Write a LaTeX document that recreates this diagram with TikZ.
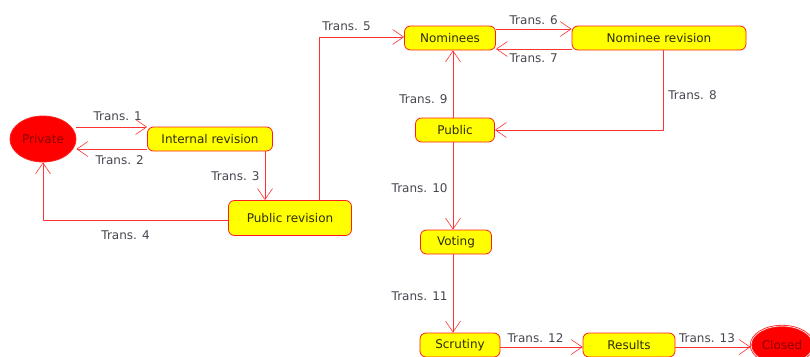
\documentclass[tikz,border=0pt]{standalone}
\usepackage{fontspec}
\setmainfont{DejaVu Sans}
\usetikzlibrary{arrows.meta,shapes.geometric}
\begin{document}
\begin{tikzpicture}[x=1pt,y=-1pt,line join=round]
			\definecolor{statered}{RGB}{255,30,30}
			\definecolor{linered}{RGB}{255,50,50}
			\definecolor{stateyellow}{RGB}{255,255,0}
			\definecolor{labelgray}{RGB}{70,70,80}
			\definecolor{statetext}{RGB}{45,45,10}
			\definecolor{darkred}{RGB}{140,0,0}
			%\draw[help lines] (0,0) grid[step=50] (810,356);
			
			\useasboundingbox (0,0) rectangle (810,356);
			
			\tikzset{
				state/.style={draw=statered, fill=stateyellow, rounded corners=6pt,
					text=statetext, font=\fontsize{12}{14}\selectfont,
					minimum height=24pt, inner sep=2pt, line width=.8pt},
				endstate/.style={ellipse, draw=statered, fill=red, text=darkred,
					font=\fontsize{12}{14}\selectfont, inner sep=0pt, line width=.8pt},
				trans/.style={draw=linered, line width=.8pt,
					-{Straight Barb[length=11pt,width=15pt,line width=.6pt]}},
				lbl/.style={text=labelgray, font=\fontsize{12}{14}\selectfont, inner sep=1pt}
			}
			
			% states
			\node[endstate, minimum width=66pt, minimum height=46pt] (private) at (43,139) {Private};
			\node[state, minimum width=125pt] (intrev) at (210,139) {Internal revision};
			\node[state, minimum width=123pt, minimum height=35pt] (pubrev) at (290,218) {Public revision};
			\node[state, minimum width=91pt] (nominees) at (450,38) {Nominees};
			\node[state, minimum width=174pt] (nomrev) at (659,38) {Nominee revision};
			\node[state, minimum width=79pt] (public) at (455,130) {Public};
			\node[state, minimum width=71pt] (voting) at (456,242) {Voting};
			\node[state, minimum width=80pt] (scrutiny) at (460,345) {Scrutiny};
			\node[state, minimum width=92pt] (results) at (629,345) {Results};
			\node[endstate, minimum width=62pt, minimum height=38pt, double=white, double distance=.6pt] (closed) at (782,345) {Closed};
			
			% transitions
			\draw[trans] ([yshift=12pt]private.east) -- ([yshift=12pt]intrev.west)
				node[lbl, midway, above=5pt, xshift=6pt] {Trans. 1};
			\draw[trans] ([yshift=-10pt]intrev.west) -- ([yshift=-10pt]private.east)
				node[lbl, midway, below=5pt, xshift=8pt] {Trans. 2};
			\draw[trans] ([xshift=55pt]intrev.south) -- ([xshift=55pt]intrev.south |- pubrev.north)
				node[lbl, midway, left=4pt] {Trans. 3};
			\draw[trans] ([yshift=-2pt]pubrev.west) -| (private.south)
				node[lbl, pos=.25, below=9pt, xshift=-10pt] {Trans. 4};
			\draw[trans] ([xshift=29pt]pubrev.north) |- ([yshift=1pt]nominees.west)
				node[lbl, pos=.75, above=5pt, xshift=-15pt] {Trans. 5};
			\draw[trans] ([yshift=9pt]nominees.east) -- ([yshift=9pt]nomrev.west)
				node[lbl, midway, above=3pt] {Trans. 6};
			\draw[trans] ([yshift=-11pt]nomrev.west) -- ([yshift=-11pt]nominees.east)
				node[lbl, midway, below=3pt] {Trans. 7};
			\draw[trans] ([xshift=4pt]nomrev.south) |- (public.east)
				node[lbl, pos=.28, right=4pt] {Trans. 8};
			\draw[trans] ([xshift=-2pt]public.north) -- ([xshift=-2pt]public.north |- nominees.south)
				node[lbl, pos=.27, left=4pt] {Trans. 9};
			\draw[trans] ([xshift=-2pt]public.south) -- ([xshift=-2pt]public.south |- voting.north)
				node[lbl, pos=.53, left=4pt] {Trans. 10};
			\draw[trans] ([xshift=-3pt]voting.south) -- ([xshift=-3pt]voting.south |- scrutiny.north)
				node[lbl, pos=.53, left=4pt] {Trans. 11};
			\draw[trans] ([yshift=-2pt]scrutiny.east) -- ([yshift=-2pt]results.west)
				node[lbl, midway, above=3pt, xshift=-6pt] {Trans. 12};
			\draw[trans] ([yshift=-2pt]results.east) -- ([yshift=-2pt]results.east -| closed.west)
				node[lbl, midway, above=3pt, xshift=-6pt] {Trans. 13};
		\end{tikzpicture}
\end{document}
